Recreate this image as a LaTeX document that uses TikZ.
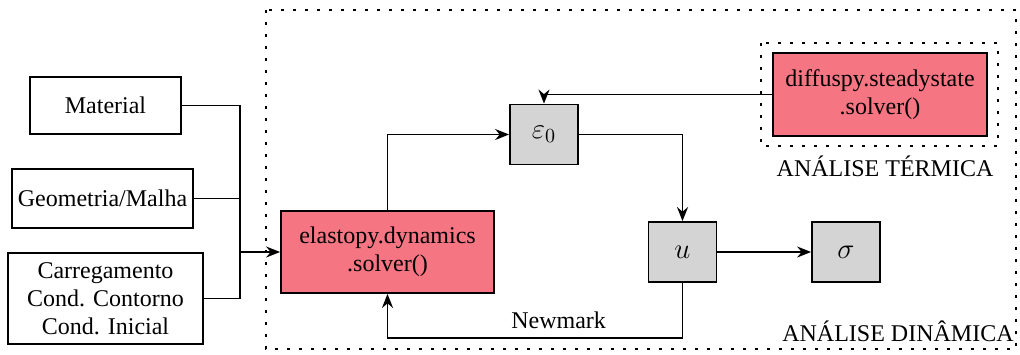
\documentclass[tikz,border=0pt]{standalone}
\usepackage{fontspec}
\setmainfont{Liberation Serif}
\usetikzlibrary{positioning, calc, arrows.meta}
\definecolor{solverpink}{RGB}{245,117,131}
\definecolor{fieldgray}{RGB}{212,212,212}

\tikzset{
  inbox/.style={draw, line width=0.9pt, align=center, inner sep=2pt},
  solver/.style={draw, line width=0.9pt, fill=solverpink, align=center, inner sep=2pt},
  field/.style={draw, line width=0.9pt, fill=fieldgray, minimum width=34pt, minimum height=30pt, font=\Large},
  flow/.style={line width=0.9pt, -{Stealth[length=7pt, width=5.5pt]}},
  link/.style={line width=0.9pt},
  dotframe/.style={line width=1pt, dash pattern=on 1.5pt off 4.5pt},
  framelabel/.style={font=\large, inner sep=0pt}
}

\begin{document}
\begin{tikzpicture}[x=0.5pt, y=-0.5pt, every node/.style={font=\large}]
  \useasboundingbox (0,0) rectangle (1020,354);

  % inputs
  \node[inbox, minimum width=75.5pt, minimum height=28.5pt] (mat) at (105.5,105.5) {Material};
  \node[inbox, minimum width=90.5pt, minimum height=29.5pt] (geo) at (102.5,198.5) {Geometria/Malha};
  \node[inbox, minimum width=97.5pt, minimum height=45.5pt] (car) at (105.5,298.5)
        {Carregamento\\Cond. Contorno\\Cond. Inicial};
  \coordinate (join) at (240,252);

  % solvers
  \node[solver, minimum width=106.5pt, minimum height=41pt] (elas) at (387.5,252) {elastopy.dynamics\\.solver()};
  \node[solver, minimum width=107pt, minimum height=41.5pt] (diff) at (880,94.5) {diffuspy.steadystate\\.solver()};

  % fields
  \node[field] (eps) at (544,134.5) {$\varepsilon_0$};
  \node[field] (u) at (682.5,252) {$u$};
  \node[field] (sig) at (846,252) {$\sigma$};

  % frames
  \draw[dotframe] (266,10) rectangle (1016,349);
  \draw[dotframe] (761,43) rectangle (998,146);
  \node[framelabel, anchor=south east] (dynlbl) at (1014,342) {ANÁLISE DINÂMICA};
  \node[framelabel] (thermlbl) at (885,166) {ANÁLISE TÉRMICA};

  % connections
  \draw[link] (mat.east) -| (join);
  \draw[link] (geo.east) -| (join);
  \draw[link] (car.east) -| (join);
  \draw[flow] (join) -- (elas.west);
  \draw[flow] (elas.north) |- (eps.west);
  \draw[flow] (diff.west) -| (eps.north);
  \draw[flow] (eps.east) -| (u.north);
  \draw[flow] (u.east) -- (sig.west);
  \draw[flow] (u.south) -- ++(0,55) -| (elas.south)
        node[pos=0.21, above=1pt] (nmlbl) {Newmark};
\end{tikzpicture}
\end{document}
